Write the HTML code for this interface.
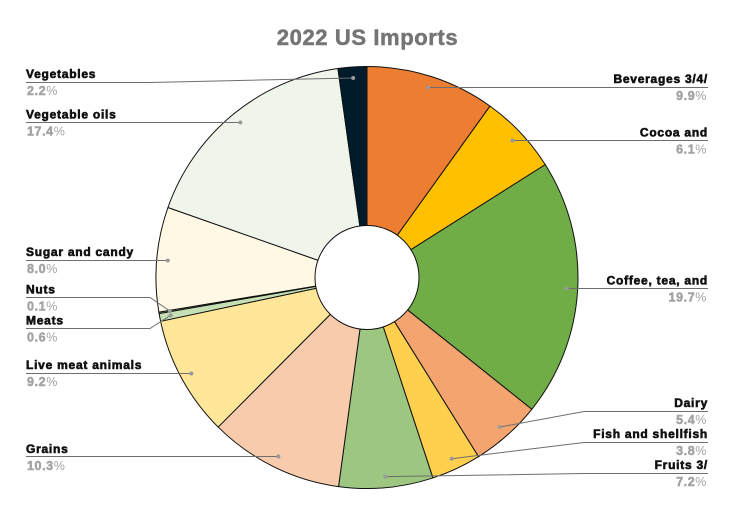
<!DOCTYPE html>
<html>
<head>
<meta charset="utf-8">
<style>
html,body{margin:0;padding:0;background:#fff;width:734px;height:515px;overflow:hidden}
svg{display:block;font-family:"Liberation Sans",Arial,sans-serif}
</style>
</head>
<body>
<svg id="chart" width="734" height="515" viewBox="0 0 734 515">
<text x="367.5" y="45" text-anchor="middle" font-size="22" font-weight="bold" fill="#757575" stroke="#757575" stroke-width="0.5" letter-spacing="0.6">2022 US Imports</text>
</svg>
<script>
const categories = ['Beverages 3/4/', 'Cocoa and', 'Coffee, tea, and', 'Dairy', 'Fish and shellfish', 'Fruits 3/', 'Grains', 'Live meat animals', 'Meats', 'Nuts', 'Sugar and candy', 'Vegetable oils', 'Vegetables'];
const shares = [9.9, 6.1, 19.7, 5.4, 3.8, 7.2, 10.3, 9.2, 0.6, 0.1, 8.0, 17.4, 2.2];
const sliceColors = ['#ED7D31', '#FFC000', '#70AD47', '#F4A46E', '#FFD04D', '#9DC780', '#F8CBAD', '#FFE699', '#C5E0B4', '#A9D18E', '#FFF8E5', '#F0F5EC', '#001B2B'];

const NS = 'http://www.w3.org/2000/svg';
const svg = document.getElementById('chart');
const cx = 367, cy = 277.5, R = 211, hole = 52, dotR = 200;
const total = shares.reduce((a, b) => a + b, 0);
const gap = 31, minY = 82, maxY = 473;
const leftX = 26, rightX = 708, leftElbow = 150, rightElbow = 584;

function make(tag, attrs, parent) {
  const el = document.createElementNS(NS, tag);
  for (const k in attrs) el.setAttribute(k, attrs[k]);
  (parent || svg).appendChild(el);
  return el;
}
function angleOf(v) { return v / total * 2 * Math.PI; }
function px(a, r) { return cx + r * Math.sin(a); }
function py(a, r) { return cy - r * Math.cos(a); }

/* pie slices */
let running = 0;
const items = [];
shares.forEach((v, i) => {
  const a0 = angleOf(running), a1 = angleOf(running + v);
  running += v;
  const large = a1 - a0 > Math.PI ? 1 : 0;
  const d = 'M' + cx + ' ' + cy + 'L' + px(a0, R) + ' ' + py(a0, R) +
    'A' + R + ' ' + R + ' 0 ' + large + ' 1 ' + px(a1, R) + ' ' + py(a1, R) + 'Z';
  const slice = make('path', { d: d, fill: sliceColors[i], stroke: '#111', 'stroke-width': 1, 'stroke-linejoin': 'round' });
  
  
  const mid = (a0 + a1) / 2;
  items.push({ i: i, dx: px(mid, dotR), dy: py(mid, dotR), right: mid < Math.PI, y: py(mid, dotR) });
});
const holeEl = make('circle', { cx: cx, cy: cy, r: hole, fill: '#fff', stroke: '#111', 'stroke-width': 1 });



/* label placement: keep labels apart by merging overlapping clusters */
function place(list) {
  list.sort((a, b) => a.dy - b.dy);
  let clusters = list.map(it => ({ members: [it], target: it.dy }));
  let changed = true;
  const pos = c => {
    const h = (c.members.length - 1) * gap;
    let top = c.target - h / 2;
    top = Math.max(minY, Math.min(maxY - h, top));
    return [top, top + h];
  };
  while (changed) {
    changed = false;
    for (let k = 0; k < clusters.length - 1; k++) {
      const A = clusters[k], B = clusters[k + 1];
      if (pos(A)[1] + gap > pos(B)[0]) {
        const m = A.members.concat(B.members);
        clusters.splice(k, 2, { members: m, target: m.reduce((s, it) => s + it.dy, 0) / m.length });
        changed = true;
        break;
      }
    }
  }
  clusters.forEach(c => {
    const top = pos(c)[0];
    c.members.forEach((it, n) => { it.y = top + n * gap; });
  });
}
place(items.filter(it => it.right));
place(items.filter(it => !it.right));

/* leaders and labels */
items.forEach(it => {
  const name = categories[it.i];
  const slug = name.toLowerCase().replace(/[^a-z0-9]+/g, '-').replace(/-$/, '');
  const edge = it.right ? rightX : leftX;
  const elbow = it.right ? rightElbow : leftElbow;
  const straight = Math.abs(it.y - it.dy) < 1.5;
  const lineY = Math.floor(it.y) + 0.5;
  const pts = straight
    ? edge + ',' + lineY + ' ' + it.dx + ',' + lineY
    : edge + ',' + lineY + ' ' + elbow + ',' + lineY + ' ' + it.dx + ',' + it.dy;
  const line = make('polyline', { points: pts, fill: 'none', stroke: '#6e6e6e', 'stroke-width': 1 });
  
  
  const dot = make('circle', { cx: it.dx, cy: straight ? lineY : it.dy, r: 2, fill: '#999' });
  
  
  const anchor = it.right ? 'end' : 'start';
  const nameText = make('text', { x: edge, y: it.y - 4, 'text-anchor': anchor, 'font-size': 12, 'font-weight': 'bold', fill: '#111', stroke: '#111', 'stroke-width': 0.6, 'letter-spacing': 0.75 });
  nameText.textContent = name;
  
  
  const valText = make('text', { x: it.right ? edge - 1 : edge + 1, y: it.y + 13, 'text-anchor': anchor, 'font-size': 12.5, fill: '#a3a3a3', 'letter-spacing': 0.6 });
  const num = make('tspan', { 'font-weight': 'bold', stroke: '#a3a3a3', 'stroke-width': 0.5 }, valText);
  num.textContent = shares[it.i].toFixed(1);
  const pct = make('tspan', {}, valText);
  pct.textContent = '%';
  
  
});
</script>
</body>
</html>
